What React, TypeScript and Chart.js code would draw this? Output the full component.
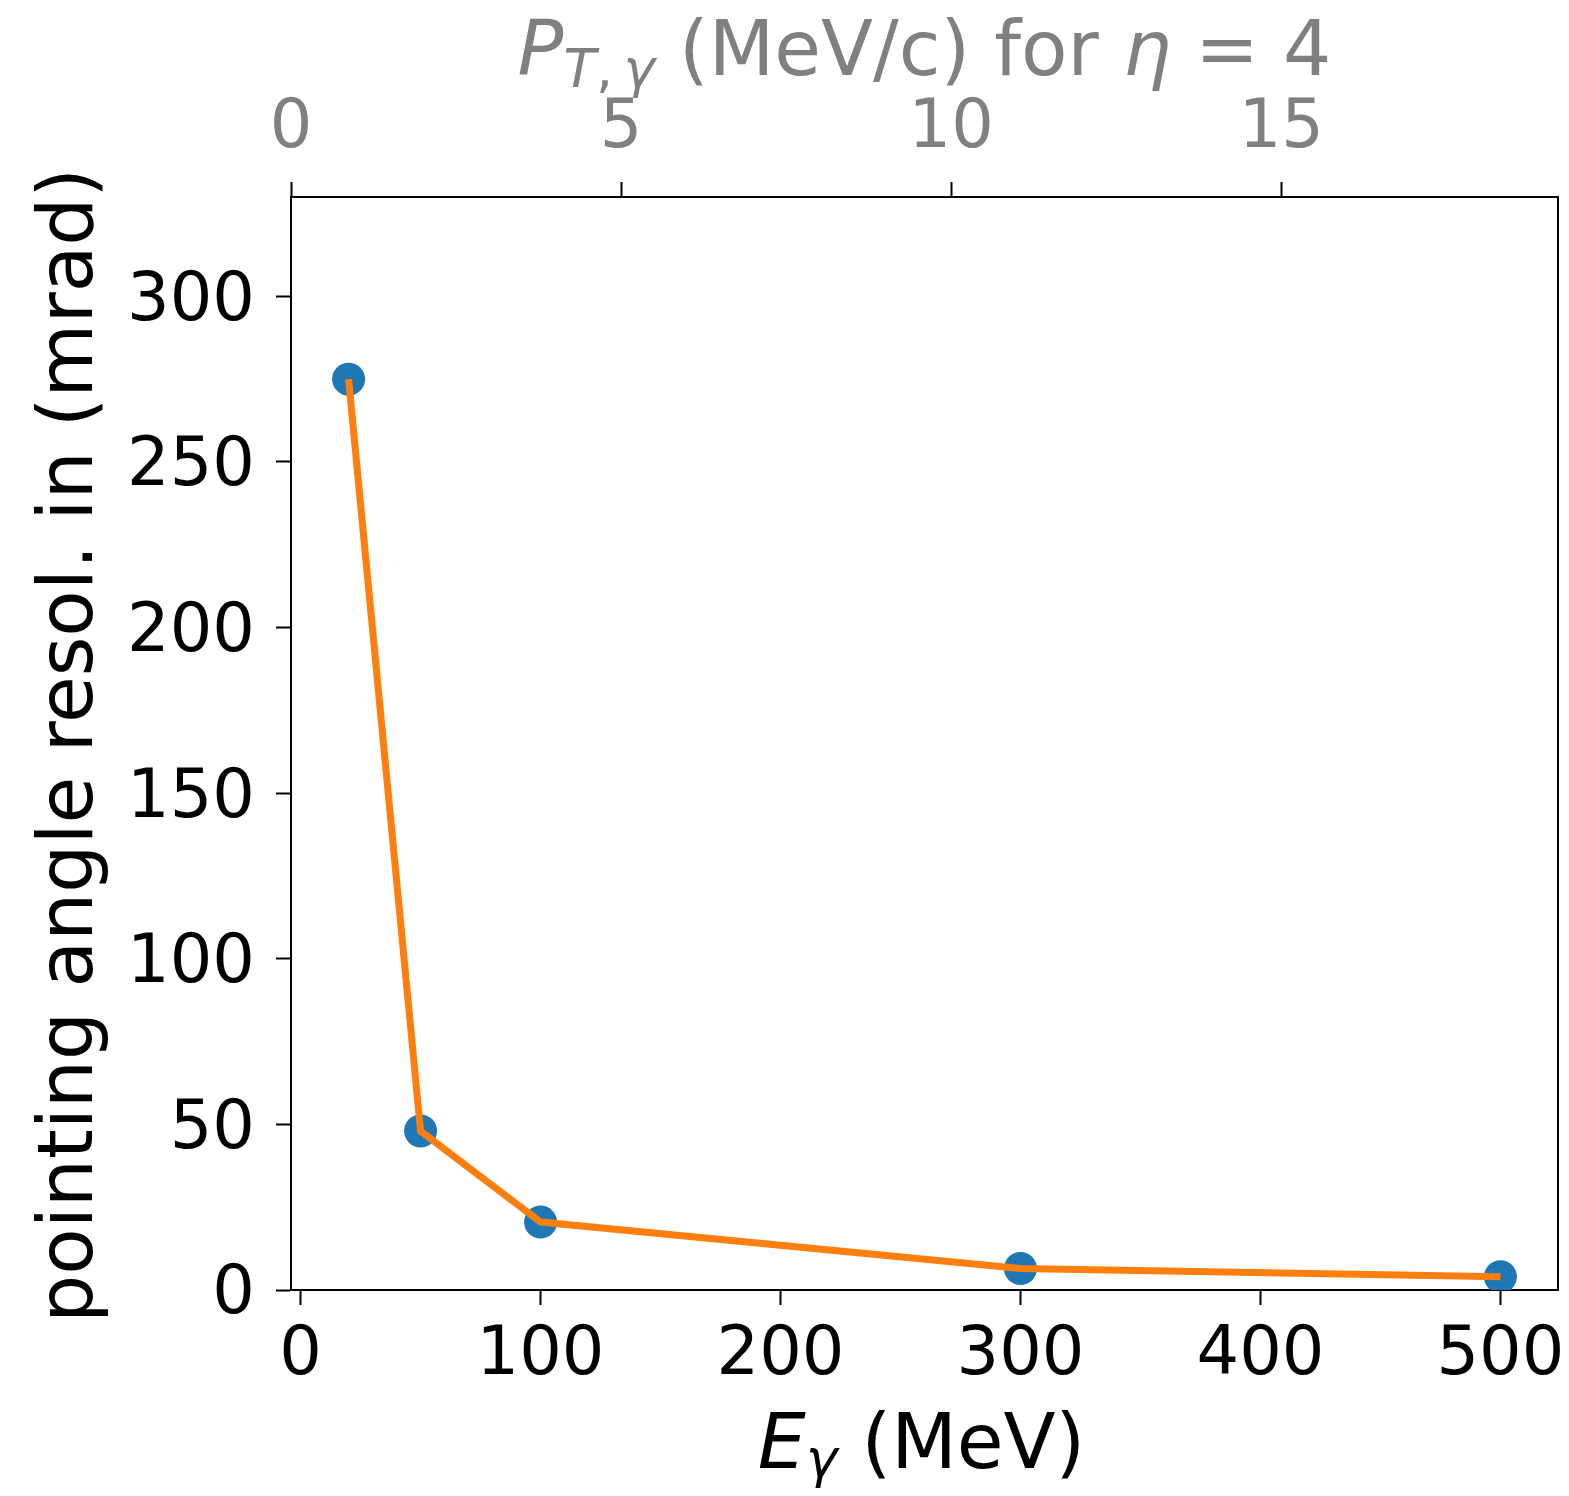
import React, { useEffect, useRef } from "react";
import { Chart, registerables } from "chart.js";

Chart.register(...registerables);

// ---- data ----
const energies = [20, 50, 100, 300, 500]; // E_gamma (MeV)
const resolution = [275, 48, 20.5, 6.5, 4]; // pointing angle resolution (mrad)
const xTicks = [0, 100, 200, 300, 400, 500];
const yTicks = [0, 50, 100, 150, 200, 250, 300];
const topTicks = [0, 5, 10, 15];

const X_MIN = -4;
const X_MAX = 524;
const Y_MIN = 0;
const Y_MAX = 330;
const TOP_MIN = 0;
const TOP_MAX = 19.19;

const yTitle = "pointing angle resol. in (mrad)";

type Seg = { text: string; italic?: boolean; sub?: boolean };
const bottomTitle: Seg[] = [
  { text: "E", italic: true },
  { text: "γ", italic: true, sub: true },
  { text: " (MeV)" },
];
const topTitle: Seg[] = [
  { text: "P", italic: true },
  { text: "T", italic: true, sub: true },
  { text: ",\u2009", sub: true },
  { text: "γ", italic: true, sub: true },
  { text: " (MeV/c) for " },
  { text: "η", italic: true },
  { text: " = 4" },
];

const FONT = '"DejaVu Sans"';
const TICK_SIZE = 67;
const LABEL_SIZE = 76;
const GRAY = "#808080";

function segFont(s: Seg, size: number) {
  const sz = s.sub ? size * 0.7 : size;
  return `${s.italic ? "italic " : ""}${sz}px ${FONT}`;
}

function drawRich(
  ctx: CanvasRenderingContext2D,
  segs: Seg[],
  cx: number,
  baseline: number,
  color: string,
  subShift: number
) {
  ctx.save();
  ctx.textBaseline = "alphabetic";
  ctx.textAlign = "left";
  ctx.fillStyle = color;
  let total = 0;
  const widths = segs.map((s) => {
    ctx.font = segFont(s, LABEL_SIZE);
    const w = ctx.measureText(s.text).width;
    total += w;
    return w;
  });
  let x = cx - total / 2;
  segs.forEach((s, i) => {
    ctx.font = segFont(s, LABEL_SIZE);
    ctx.fillText(s.text, x, baseline + (s.sub ? subShift : 0));
    x += widths[i];
  });
  ctx.restore();
}

const titlePlugin = {
  id: "customTitles",
  afterDraw(chart: any) {
    const ctx: CanvasRenderingContext2D = chart.ctx;
    const ca = chart.chartArea;
    const cx = (ca.left + ca.right) / 2;
    ctx.save();
    ctx.font = `${LABEL_SIZE}px ${FONT}`;
    ctx.fillStyle = "#000";
    ctx.textAlign = "center";
    ctx.textBaseline = "alphabetic";
    ctx.translate(ca.left - 199, (ca.top + ca.bottom) / 2 + 2);
    ctx.rotate(-Math.PI / 2);
    ctx.fillText(yTitle, 0, 0);
    ctx.restore();

    drawRich(ctx, bottomTitle, cx - 3, ca.bottom + 178, "#000", 9);
    drawRich(ctx, topTitle, cx, ca.top - 122, GRAY, 12);
  },
};

function setTicks(values: number[]) {
  return (scale: any) => {
    scale.ticks = values.map((v) => ({ value: v }));
  };
}

function fitSize(size: number, horizontal: boolean) {
  return (scale: any) => {
    if (horizontal) scale.height = size;
    else scale.width = size;
    scale.paddingLeft = 0;
    scale.paddingRight = 0;
    scale.paddingTop = 0;
    scale.paddingBottom = 0;
  };
}

const gridOpts = {
  display: true,
  drawOnChartArea: false,
  drawTicks: true,
  tickLength: 15,
  tickWidth: 2,
  tickColor: "#000",
};
const borderOpts = { display: true, color: "#000", width: 2 };

export default function App() {
  const canvasRef = useRef<HTMLCanvasElement | null>(null);

  useEffect(() => {
    if (!canvasRef.current) return;
    const points = energies.map((e, i) => ({ x: e, y: resolution[i] }));
    const chart = new Chart(canvasRef.current, {
      type: "line",
      data: {
        datasets: [
          {
            type: "line",
            data: points,
            borderColor: "#ff7f0e",
            borderWidth: 7,
            pointRadius: 0,
            tension: 0,
            fill: false,
            order: 1,
            xAxisID: "x",
            yAxisID: "y",
          } as any,
          {
            type: "scatter",
            data: points,
            backgroundColor: "#1f77b4",
            borderWidth: 0,
            pointRadius: 16.5,
            pointHoverRadius: 16.5,
            showLine: false,
            order: 2,
            xAxisID: "x",
            yAxisID: "y",
          } as any,
        ],
      },
      options: {
        animation: false,
        responsive: false,
        devicePixelRatio: 1,
        events: [],
        layout: { padding: 0, autoPadding: false },
        plugins: {
          legend: { display: false },
          tooltip: { enabled: false },
          title: { display: false },
        },
        scales: {
          x: {
            type: "linear",
            position: "bottom",
            min: X_MIN,
            max: X_MAX,
            afterBuildTicks: setTicks(xTicks),
            afterFit: fitSize(206, true),
            grid: gridOpts,
            border: borderOpts,
            ticks: {
              color: "#000",
              font: { family: "DejaVu Sans", size: TICK_SIZE },
              padding: 11,
              maxRotation: 0,
              autoSkip: false,
            },
          },
          x2: {
            type: "linear",
            position: "top",
            display: true,
            min: TOP_MIN,
            max: TOP_MAX,
            afterBuildTicks: setTicks(topTicks),
            afterFit: fitSize(197, true),
            grid: gridOpts,
            border: borderOpts,
            ticks: {
              color: GRAY,
              font: { family: "DejaVu Sans", size: TICK_SIZE },
              padding: 12,
              maxRotation: 0,
              autoSkip: false,
            },
          },
          y: {
            type: "linear",
            position: "left",
            min: Y_MIN,
            max: Y_MAX,
            afterBuildTicks: setTicks(yTicks),
            afterFit: fitSize(291, false),
            grid: gridOpts,
            border: borderOpts,
            ticks: {
              color: "#000",
              font: { family: "DejaVu Sans", size: TICK_SIZE },
              padding: 21,
              labelOffset: 6,
              autoSkip: false,
            },
          },
          y2: {
            type: "linear",
            position: "right",
            display: true,
            min: Y_MIN,
            max: Y_MAX,
            afterFit: fitSize(11, false),
            grid: { display: false },
            border: borderOpts,
            ticks: { display: false },
          },
        },
      } as any,
      plugins: [titlePlugin],
    });
    return () => chart.destroy();
  }, []);

  return (
    <div
      style={{
        position: "absolute",
        left: 0,
        top: 0,
        width: 1569,
        height: 1496,
        background: "#fff",
      }}
    >
      <canvas
        ref={canvasRef}
        width={1569}
        height={1496}
        style={{ display: "block", width: 1569, height: 1496 }}
      />
    </div>
  );
}
